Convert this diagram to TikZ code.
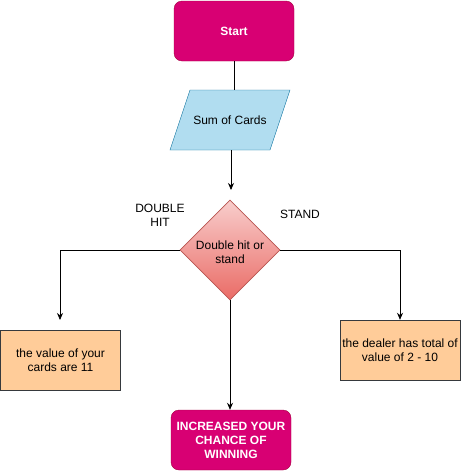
\documentclass[tikz,border=0pt]{standalone}
\usepackage{fontspec}
\setmainfont{Liberation Sans}
\usetikzlibrary{shapes.geometric,arrows.meta}
\definecolor{mag}{HTML}{D80073}
\definecolor{magline}{HTML}{A50040}
\definecolor{bluefill}{HTML}{B1DDF0}
\definecolor{blueline}{HTML}{10739E}
\definecolor{redtop}{HTML}{F8CECC}
\definecolor{redbot}{HTML}{EA6B66}
\definecolor{redline}{HTML}{B85450}
\definecolor{orfill}{HTML}{FFCC99}
\definecolor{orline}{HTML}{36393D}
\begin{document}
\begin{tikzpicture}[x=1pt,y=-1pt,
  every node/.style={font=\fontsize{12}{14}\selectfont, align=center, inner sep=0pt},
  term/.style={draw=magline, fill=mag, text=white, font=\bfseries\fontsize{12}{14}\selectfont, rounded corners=8pt, minimum width=120pt, minimum height=60pt},
  io/.style={draw=blueline, fill=bluefill},
  dec/.style={draw=redline, top color=redtop, bottom color=redbot, diamond, minimum width=100pt, minimum height=100pt, aspect=1, line width=0.8pt},
  proc/.style={draw=orline, fill=orfill, minimum width=120pt, minimum height=60pt},
  conn/.style={line width=0.8pt},
  arr/.style={conn, -{Stealth[length=7pt,width=6pt]}}
]
\useasboundingbox (0,0) rectangle (461,471);
\node[term] (start) at (234,31) {Start};
\draw[io] (190,90) -- (290,90) -- (270,150) -- (170,150) -- cycle;
\node (sum) at (230,120) {Sum of Cards};
\coordinate (sumtop) at (234,90);
\coordinate (sumbot) at (231,150);
\node[dec] (dec) at (230,250) {};
\node at (230,252) {Double hit or\\stand};
\node (lblhit) at (160,215) {DOUBLE\\HIT};
\node (lblstand) at (300,214) {STAND};
\node[proc] (left) at (60.5,360) {the value of your\\cards are 11};
\node[proc] (right) at (400,350) {the dealer has total of\\value of 2 - 10};
\node[term] (win) at (231,440) {INCREASED YOUR\\CHANCE OF\\WINNING};
\coordinate (a1) at (231,190);
\coordinate (lc) at (60,250);
\coordinate (l1) at (60,320);
\coordinate (rc) at (400,250);
\draw[conn] (start.south -| sumtop) -- (sumtop);
\draw[arr] (sumbot) -- (a1);
\draw[arr] (dec.west) -- (lc) -- (l1);
\draw[arr] (dec.east) -- (rc) -- (right.north);
\draw[arr] (dec.south) -- (dec.south |- win.north);
\end{tikzpicture}
\end{document}
